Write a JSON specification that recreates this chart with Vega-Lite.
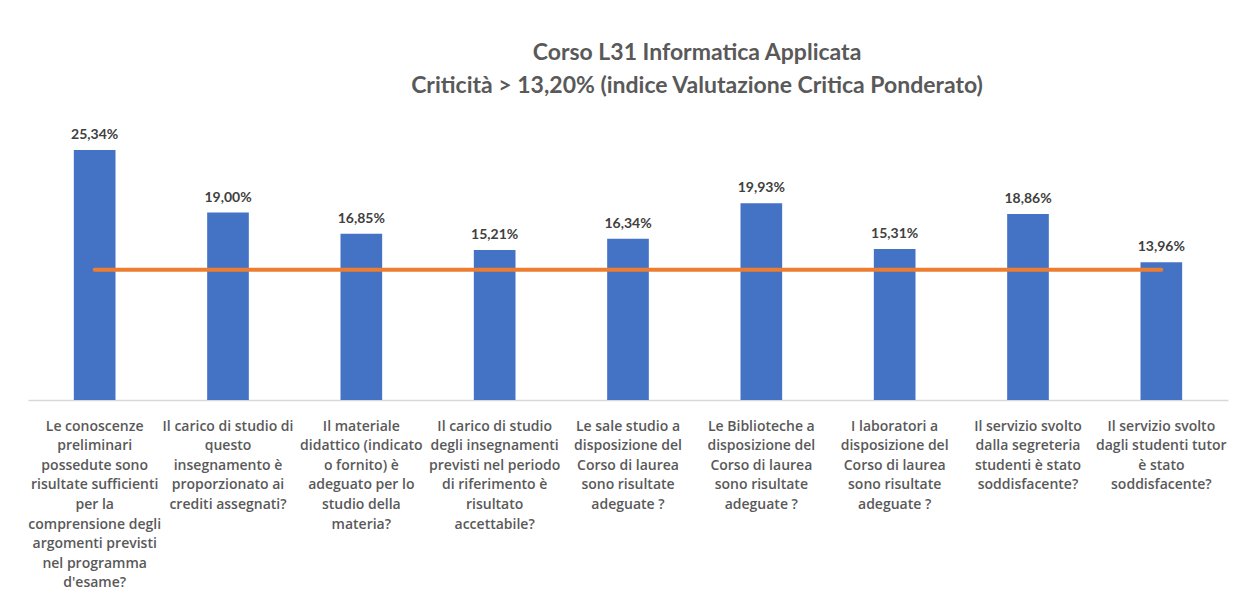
{
  "$schema": "https://vega.github.io/schema/vega-lite/v6.json",
  "autosize": "none",
  "width": 1200,
  "height": 296,
  "padding": {"left": 28, "top": 104, "right": 8, "bottom": 201},
  "background": "white",
  "config": {
    "locale": {"number": {"decimal": ",", "thousands": ".", "grouping": [3], "currency": ["€", ""]}},
    "view": {"stroke": null},
    "font": "Lato"
  },
  "title": {
    "text": ["Corso L31 Informatica Applicata", "Criticità > 13,20% (indice Valutazione Critica Ponderato)"],
    "fontSize": 23,
    "fontWeight": "bold",
    "color": "#595959",
    "lineHeight": 33,
    "anchor": "middle",
    "dx": 69,
    "offset": 6
  },
  "data": {
    "values": [
      {"domanda": "Le conoscenze|preliminari|possedute sono|risultate sufficienti|per la|comprensione degli|argomenti previsti|nel programma|d'esame?", "valore": 0.2534, "soglia": 0.132},
      {"domanda": "Il carico di studio di|questo|insegnamento è|proporzionato ai|crediti assegnati?", "valore": 0.19, "soglia": 0.132},
      {"domanda": "Il materiale|didattico (indicato|o fornito) è|adeguato per lo|studio della|materia?", "valore": 0.1685, "soglia": 0.132},
      {"domanda": "Il carico di studio|degli insegnamenti|previsti nel periodo|di riferimento è|risultato|accettabile?", "valore": 0.1521, "soglia": 0.132},
      {"domanda": "Le sale studio a|disposizione del|Corso di laurea|sono risultate|adeguate ?", "valore": 0.1634, "soglia": 0.132},
      {"domanda": "Le Biblioteche a|disposizione del|Corso di laurea |sono risultate|adeguate ? ", "valore": 0.1993, "soglia": 0.132},
      {"domanda": "I laboratori a|disposizione del|Corso di laurea|sono risultate|adeguate ?  ", "valore": 0.1531, "soglia": 0.132},
      {"domanda": "Il servizio svolto|dalla segreteria|studenti è stato|soddisfacente?", "valore": 0.1886, "soglia": 0.132},
      {"domanda": "Il servizio svolto|dagli studenti tutor|è stato|soddisfacente?", "valore": 0.1396, "soglia": 0.132}
    ]
  },
  "encoding": {
    "x": {
      "field": "domanda",
      "type": "nominal",
      "sort": null,
      "scale": {"paddingInner": 0.6875, "paddingOuter": 0.34375},
      "axis": {
        "title": null,
        "labelAngle": 0,
        "labelAlign": "center",
        "labelBaseline": "top",
        "labelExpr": "split(datum.label, '|')",
        "labelLimit": 0,
        "labelFontSize": 14,
        "labelFontWeight": 600,
        "labelLineHeight": 19.6,
        "labelColor": "#595959",
        "labelFont": "Open Sans",
        "labelPadding": 19,
        "ticks": false,
        "domainColor": "#D9D9D9",
        "domainWidth": 1.5,
        "grid": false
      }
    }
  },
  "layer": [
    {
      "mark": {"type": "bar", "color": "#4472C4"},
      "encoding": {
        "y": {"field": "valore", "type": "quantitative", "scale": {"domain": [0, 0.3], "nice": false}, "axis": null}
      }
    },
    {
      "mark": {"type": "text", "baseline": "bottom", "dy": -8, "fontSize": 14, "fontWeight": "bold", "color": "#404040"},
      "encoding": {
        "y": {"field": "valore", "type": "quantitative"},
        "text": {"field": "valore", "type": "quantitative", "format": ".2%"}
      }
    },
    {
      "mark": {"type": "line", "color": "#ED7D31", "strokeWidth": 4, "strokeCap": "round"},
      "encoding": {
        "y": {"field": "soglia", "type": "quantitative"}
      }
    }
  ]
}
